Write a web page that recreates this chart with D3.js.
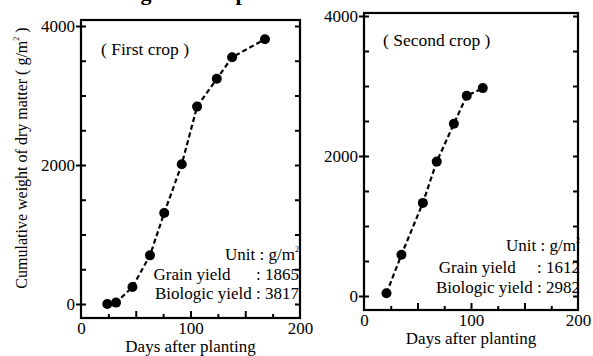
<!DOCTYPE html>
<html>
<head>
<meta charset="utf-8">
<script src="https://cdn.jsdelivr.net/npm/d3@7"></script>
<style>
  body { margin: 0; background: #fff; }
  svg text { font-family: "Liberation Serif", "DejaVu Serif", serif; fill: #000; }
</style>
</head>
<body>
<div id="chart"></div>
<script>
// first crop
const firstDays = [24, 32, 47, 63, 76, 92, 106, 124, 138, 168]
const firstWeight = [0, 20, 245, 700, 1310, 2010, 2840, 3240, 3550, 3810]
// second crop
const secondDays = [21, 35, 55, 68, 84, 96, 111]
const secondWeight = [40, 590, 1330, 1920, 2460, 2860, 2970]

const yLabelTicks = [0, 2000, 4000]
const xLabelTicks = [0, 100, 200]
const firstNotes = ['Unit : g/m', 'Grain yield      : 1865', 'Biologic yield : 3817']
const secondNotes = ['Unit : g/m', 'Grain yield     : 1612', 'Biologic yield : 2982']

const width = 593
const height = 356

const svg = d3.select('#chart').append('svg')
  .attr('width', width)
  .attr('height', height)

// title, mostly cut off at the top edge like the source
svg.append('text')
  .attr('x', 126)
  .attr('y', 0)
  .attr('text-anchor', 'middle')
  .attr('font-weight', 'bold')
  .attr('font-size', 22)
  .text('Biomass during each crop')

const drawPanel = (opt) => {
  const {days, weight, left, right, zeroY, topY, frameTop, frameBottom, label, notes, noteX, noteY, labelPos} = opt

  const xScale = d3.scaleLinear().domain([0, 200]).range([left, right])
  const yScale = d3.scaleLinear().domain([0, 4000]).range([zeroY, topY])
  const g = svg.append('g')

  // inner minor ticks, left and right
  g.append('g')
    .attr('transform', 'translate(' + left + ',0)')
    .call(d3.axisLeft(yScale).tickValues(d3.range(0, 4001, 500)).tickSize(-5).tickFormat(''))
  g.append('g')
    .attr('transform', 'translate(' + right + ',0)')
    .call(d3.axisRight(yScale).tickValues(d3.range(0, 4001, 500)).tickSize(-5).tickFormat(''))

  // labelled ticks, outward
  g.append('g')
    .attr('transform', 'translate(' + left + ',0)')
    .call(d3.axisLeft(yScale).tickValues(yLabelTicks).tickSize(5).tickPadding(1).tickFormat(d3.format('d')))

  // bottom ticks, inward
  g.append('g')
    .attr('transform', 'translate(0,' + frameBottom + ')')
    .call(d3.axisBottom(xScale).tickValues(d3.range(25, 200, 50)).tickSize(-4).tickFormat(''))
  g.append('g')
    .attr('transform', 'translate(0,' + frameBottom + ')')
    .call(d3.axisBottom(xScale).tickValues([50, 100, 150]).tickSize(-7).tickFormat(''))
  g.append('g')
    .attr('transform', 'translate(0,' + frameBottom + ')')
    .call(d3.axisBottom(xScale).tickValues(xLabelTicks).tickSize(0).tickPadding(4).tickFormat(d3.format('d')))

  g.selectAll('.domain').remove()
  g.selectAll('.tick line').attr('stroke', '#000').attr('stroke-width', 2)
  g.selectAll('.tick text').style('font-size', '17px')

  // frame
  g.append('rect')
    .attr('x', left)
    .attr('y', frameTop)
    .attr('width', right - left)
    .attr('height', frameBottom - frameTop)
    .attr('fill', 'none')
    .attr('stroke', '#000')
    .attr('stroke-width', 2.2)

  const points = days.map((d, i) => ({day: d, w: weight[i]}))

  const line = d3.line()
    .x(d => xScale(d.day))
    .y(d => yScale(d.w))

  g.append('path')
    .datum(points)
    .attr('fill', 'none')
    .attr('stroke', '#000')
    .attr('stroke-width', 2.2)
    .attr('stroke-dasharray', '5,3')
    .attr('d', line)

  g.append('g').selectAll('circle')
    .data(points)
    .enter().append('circle')
    .attr('cx', d => xScale(d.day))
    .attr('cy', d => yScale(d.w))
    .attr('r', 5)
    .attr('fill', '#000')

  g.append('text')
    .attr('x', labelPos[0])
    .attr('y', labelPos[1])
    .style('font-size', '17.5px')
    .attr('xml:space', 'preserve')
    .text(label)

  notes.forEach((n, i) => {
    const t = g.append('text')
      .attr('x', noteX)
      .attr('y', noteY[i])
      .style('font-size', '17px')
      .attr('text-anchor', 'end')
      .attr('xml:space', 'preserve')
      .text(n)
    if (i === 0) {
      t.append('tspan').style('font-size', '8px').attr('dy', -8).text('2')
    }
  })

  g.append('text')
    .attr('x', (left + right) / 2)
    .attr('y', frameBottom + 34)
    .attr('text-anchor', 'middle')
    .style('font-size', '17px')
    .text('Days after planting')
}

drawPanel({
  days: firstDays, weight: firstWeight,
  left: 81, right: 300, zeroY: 304, topY: 26, frameTop: 20, frameBottom: 318,
  label: '( First crop )', labelPos: [101, 55],
  notes: firstNotes, noteX: 299, noteY: [260, 280, 299]
})

drawPanel({
  days: secondDays, weight: secondWeight,
  left: 364, right: 578, zeroY: 296, topY: 16, frameTop: 13, frameBottom: 310,
  label: '( Second crop )', labelPos: [383, 46],
  notes: secondNotes, noteX: 580, noteY: [251, 273, 293]
})

// y axis title
const yTitle = svg.append('text')
  .attr('transform', 'translate(27,158) rotate(-90)')
  .attr('text-anchor', 'middle')
  .style('font-size', '16px')
  .text('Cumulative weight of dry matter ( g/m')
yTitle.append('tspan').style('font-size', '8px').attr('dy', -8).text('2')
yTitle.append('tspan').attr('dy', 8).text(' )')
</script>
</body>
</html>
